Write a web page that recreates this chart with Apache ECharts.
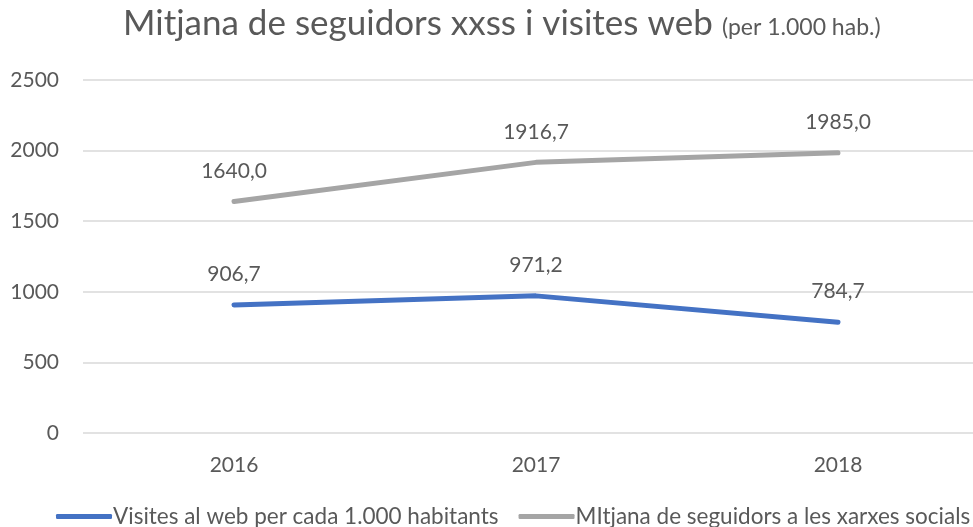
<!DOCTYPE html>
<html>
<head>
<meta charset="utf-8">
<script src="https://cdn.jsdelivr.net/npm/echarts@6/dist/echarts.min.js"></script>
<style>
  html, body { margin: 0; padding: 0; background: #fff; }
  #main { width: 973px; height: 527px; }
</style>
</head>
<body>
<div id="main"></div>
<script>
var years = ['2016', '2017', '2018'];
var visites = [906.7, 971.2, 784.7];
var seguidors = [1640.0, 1916.7, 1985.0];
var seriesNames = ['Visites al web per cada 1.000 habitants', 'MItjana de seguidors a les xarxes socials'];

var font = 'Lato, "Open Sans", sans-serif';
var txt = '#595959';

function fmt(p) {
    return p.value.toFixed(1).replace('.', ',');
}

var myChart = echarts.init(document.getElementById('main'));

var lbl = { show: true, position: 'top', distance: 20, fontSize: 21, color: txt, fontFamily: font, formatter: fmt };

var option = {
    animation: false,
    textStyle: { fontFamily: font, color: txt },
    title: {
        left: 123,
        top: 6,
        padding: 0,
        text: '{a|Mitjana de seguidors xxss i visites web}  {b|(per 1.000 hab.)}',
        textStyle: {
            fontWeight: 'normal',
            rich: {
                a: { fontSize: 35, color: txt, fontFamily: font, fontWeight: 'normal' },
                b: { fontSize: 23, color: txt, fontFamily: font, fontWeight: 'normal', padding: [8, 0, 0, 0] }
            }
        }
    },
    legend: {
        top: 505,
        left: 56,
        padding: 0,
        itemWidth: 56,
        itemHeight: 5,
        itemGap: 20,
        textStyle: { fontSize: 22.5, color: txt, fontFamily: font, padding: [0, 0, 0, -4] },
        data: seriesNames.map(function (n) {
            return { name: n, icon: 'roundRect' };
        })
    },
    grid: { left: 83, top: 80, width: 906, height: 353, outerBoundsMode: 'none', containLabel: false },
    xAxis: {
        type: 'category',
        data: years,
        axisLine: { show: false },
        axisTick: { show: false },
        axisLabel: { fontSize: 21, color: txt, margin: 22 }
    },
    yAxis: {
        type: 'value',
        min: 0,
        max: 2500,
        interval: 500,
        axisLabel: { fontSize: 21, color: txt, margin: 24, formatter: function (v) { return String(v); } },
        splitLine: { lineStyle: { color: '#d9d9d9', width: 1.5 } }
    },
    series: [
        {
            name: seriesNames[0],
            type: 'line',
            data: visites,
            symbol: 'circle',
            symbolSize: 0.1,
            showSymbol: true,
            color: '#4472C4',
            lineStyle: { width: 5, cap: 'round', color: '#4472C4' },
            label: lbl
        },
        {
            name: seriesNames[1],
            type: 'line',
            data: seguidors,
            symbol: 'circle',
            symbolSize: 0.1,
            showSymbol: true,
            color: '#A5A5A5',
            lineStyle: { width: 5, cap: 'round', color: '#A5A5A5' },
            label: lbl
        }
    ]
};

myChart.setOption(option);
</script>
</body>
</html>
